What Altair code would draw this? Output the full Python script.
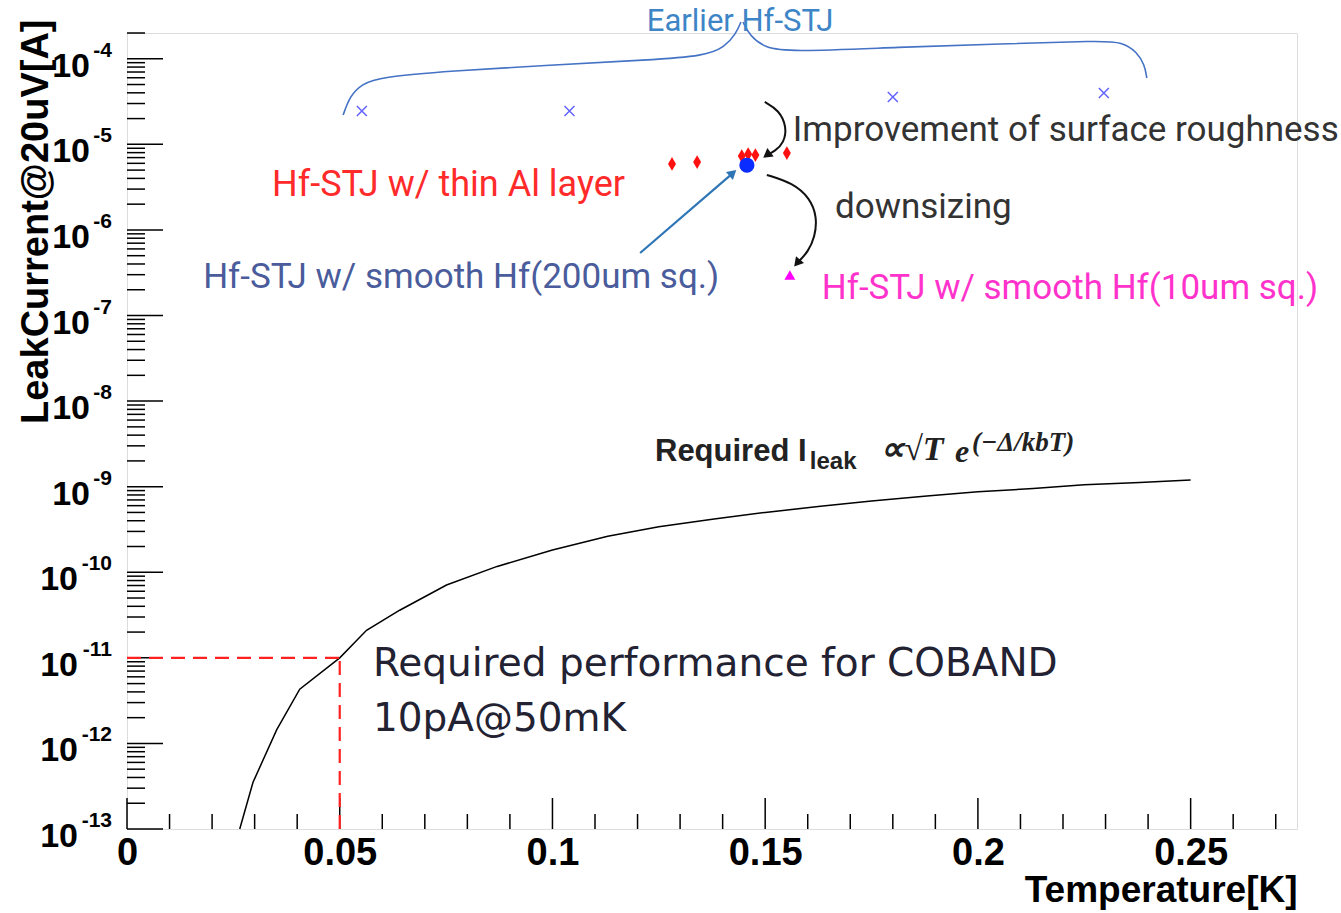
import altair as alt
import pandas as pd

# ---------------- data ----------------
curve_T = [0.0265, 0.0296, 0.0352, 0.0406, 0.0500, 0.0563, 0.0641, 0.0751, 0.0870, 0.1000, 0.1130,
           0.1250, 0.1380, 0.1500, 0.1630, 0.1750, 0.1880, 0.2000, 0.2130, 0.2250, 0.2380, 0.2500]
curve_I = [1.0e-13, 3.5e-13, 1.45e-12, 4.3e-12, 1.0e-11, 2.1e-11, 3.6e-11, 7.1e-11, 1.17e-10, 1.82e-10, 2.63e-10,
           3.4e-10, 4.2e-10, 5.0e-10, 5.9e-10, 6.8e-10, 7.8e-10, 8.7e-10, 9.5e-10, 1.05e-9, 1.12e-9, 1.2e-9]

earlier_T = [0.0552, 0.1040, 0.1800, 0.2296]
earlier_I = [2.45e-5, 2.45e-5, 3.57e-5, 3.98e-5]

al_T = [0.1281, 0.1340, 0.1445, 0.1460, 0.1477, 0.1551]
al_I = [5.9e-6, 6.2e-6, 7.3e-6, 7.7e-6, 7.5e-6, 7.9e-6]

smooth200_T = [0.1457]
smooth200_I = [5.7e-6]
smooth10_T = [0.1558]
smooth10_I = [2.98e-7]

req_T = 0.05
req_I = 1e-11

x_major = [0.0, 0.05, 0.10, 0.15, 0.20, 0.25]
x_minor = [0.01, 0.02, 0.03, 0.04, 0.06, 0.07, 0.08, 0.09, 0.11, 0.12, 0.13, 0.14,
           0.16, 0.17, 0.18, 0.19, 0.21, 0.22, 0.23, 0.24, 0.26, 0.27]
y_major = [1e-13, 1e-12, 1e-11, 1e-10, 1e-9, 1e-8, 1e-7, 1e-6, 1e-5, 1e-4]
y_exp = ["-13", "-12", "-11", "-10", "-9", "-8", "-7", "-6", "-5", "-4"]
y_mantissa = [2, 3, 4, 5, 6, 7, 8, 9]

# brace over "Earlier Hf-STJ" (two halves)
braceL_T = [0.0508, 0.0524, 0.0552, 0.0595, 0.0759, 0.0994, 0.1229, 0.1358, 0.1405, 0.1431, 0.1443]
braceL_I = [2.2e-5, 3.67e-5, 5.07e-5, 6.12e-5, 7.19e-5, 8.45e-5, 9.68e-5, 1.08e-4, 1.37e-4, 1.95e-4, 2.69e-4]
braceR_T = [0.1448, 0.1464, 0.1499, 0.1558, 0.1817, 0.2052, 0.2287, 0.2339, 0.2374, 0.2392, 0.2397]
braceR_I = [2.69e-4, 1.85e-4, 1.34e-4, 1.20e-4, 1.37e-4, 1.49e-4, 1.62e-4, 1.57e-4, 1.20e-4, 8.45e-5, 5.96e-5]

# arrows
arrow1_T = [0.1499, 0.1532, 0.1551, 0.1544, 0.1523, 0.1504]
arrow1_I = [3.13e-5, 2.52e-5, 1.60e-5, 1.04e-5, 8.36e-6, 7.51e-6]
arrow2_T = [0.1504, 0.1565, 0.1605, 0.1622, 0.1617, 0.1600, 0.1582, 0.1575]
arrow2_I = [4.39e-6, 3.53e-6, 2.36e-6, 1.42e-6, 8.26e-7, 5.52e-7, 4.45e-7, 4.1e-7]
arrow3_T = [0.1206, 0.1424]
arrow3_I = [5.38e-7, 4.62e-6]

# annotation texts and anchors
ann_text = ["Earlier Hf-STJ", "Improvement of surface roughness", "Hf-STJ w/ thin Al layer",
            "Hf-STJ w/ smooth Hf(200um sq.)", "downsizing", "Hf-STJ w/ smooth Hf(10um sq.)",
            "Required performance for COBAND", "10pA@50mK"]
ann_T = [0.1441, 0.1565, 0.0341, 0.0179, 0.1664, 0.1633, 0.0578, 0.0578]
ann_I = [2.70e-4, 1.47e-5, 3.35e-6, 2.82e-7, 1.85e-6, 2.10e-7, 8.4e-12, 1.95e-12]

formula_text = ["Required I", "leak", "∝√T", "e", "(−Δ/kbT)"]
formula_T = [0.1241, 0.1605, 0.1770, 0.1946, 0.1986]
formula_I = [2.54e-9, 1.94e-9, 2.69e-9, 2.54e-9, 3.24e-9]

# ---------------- chart ----------------
W, H = 1170, 796
xs = alt.Scale(domain=[0, 0.275], nice=False, zero=False)
ys = alt.Scale(type="log", domain=[1e-13, 2e-4], nice=False)

xaxis = alt.Axis(values=x_major, labelExpr="format(datum.value, '.2~f')", labelFont="Liberation Sans",
                 labelFontWeight="bold", labelFontSize=38, labelColor="#000", labelPadding=5,
                 labelFlush=False, labelOverlap=False, ticks=False, domain=False, grid=False,
                 title="Temperature[K]", titleFont="Liberation Sans", titleFontSize=37,
                 titleFontWeight="bold", titleColor="#000", titleAlign="right",
                 titleBaseline="alphabetic", titleX=W, titleY=72)
yaxis = alt.Axis(labels=False, ticks=False, domain=False, grid=False,
                 title="LeakCurrent@20uV[A]", titleFont="Liberation Sans", titleFontSize=38,
                 titleFontWeight="bold", titleColor="#000", titleAngle=270, titleAlign="right",
                 titleBaseline="alphabetic", titleX=-80, titleY=-14)


def X():
    return alt.X("T:Q", scale=xs, axis=xaxis)


def Y():
    return alt.Y("I:Q", scale=ys, axis=yaxis)


curve_df = pd.DataFrame({"T": curve_T, "I": curve_I, "o": range(len(curve_T))})
curve = alt.Chart(curve_df).mark_line(color="#000", strokeWidth=1.5).encode(
    x=X(), y=Y(), order="o:Q")

# inside ticks
ymaj_df = pd.DataFrame({"I": y_major})
ymin_vals = [m * d for d in y_major for m in y_mantissa if m * d <= 2e-4]
ymin_df = pd.DataFrame({"I": ymin_vals})
ymaj = alt.Chart(ymaj_df).mark_rule(color="#000", strokeWidth=1.5).encode(
    y=Y(), x=alt.value(0), x2=alt.value(36))
ymin = alt.Chart(ymin_df).mark_rule(color="#000", strokeWidth=1.5).encode(
    y=Y(), x=alt.value(0), x2=alt.value(18))
xmaj = alt.Chart(pd.DataFrame({"T": x_major})).mark_rule(color="#000", strokeWidth=1.5).encode(
    x=X(), y=alt.value(H), y2=alt.value(H - 31))
xmin = alt.Chart(pd.DataFrame({"T": x_minor})).mark_rule(color="#000", strokeWidth=1.5).encode(
    x=X(), y=alt.value(H), y2=alt.value(H - 15))

# y tick labels: "10" plus a raised exponent
ylab_df = pd.DataFrame({"I": y_major, "e": y_exp, "b": ["10"] * len(y_major)})
ylab_df["two"] = ylab_df["e"].str.len() > 2
base_style = dict(align="right", baseline="alphabetic", dy=18, font="Liberation Sans",
                  fontWeight="bold", fontSize=34, color="#000")
ten_long = alt.Chart(ylab_df[ylab_df["two"]]).mark_text(**base_style).encode(
    y=Y(), x=alt.value(-49), text="b:N")
ten_short = alt.Chart(ylab_df[~ylab_df["two"]]).mark_text(**base_style).encode(
    y=Y(), x=alt.value(-37), text="b:N")
expo = alt.Chart(ylab_df).mark_text(
    align="right", baseline="alphabetic", dy=-2, font="Liberation Sans", fontWeight="bold",
    fontSize=21, color="#000").encode(y=Y(), x=alt.value(-15), text="e:N")

# red dashed requirement lines
req_df = pd.DataFrame({"T": [0.0, req_T], "T2": [req_T, req_T],
                       "I": [req_I, 1e-13], "I2": [req_I, req_I]})
req = alt.Chart(req_df).mark_rule(color="#ff2020", strokeWidth=2.2, strokeDash=[14, 8]).encode(
    x=X(), x2="T2:Q", y=Y(), y2="I2:Q")

# markers
earlier = alt.Chart(pd.DataFrame({"T": earlier_T, "I": earlier_I})).mark_point(
    shape="M-1,-1L1,1M-1,1L1,-1", filled=False, color="#2020ff", strokeWidth=1.5, size=100).encode(x=X(), y=Y())
al = alt.Chart(pd.DataFrame({"T": al_T, "I": al_I})).mark_point(
    shape="M0,-1.2L0.7,0L0,1.2L-0.7,0Z", filled=True, color="#ff1010", opacity=1, size=130).encode(x=X(), y=Y())
s200 = alt.Chart(pd.DataFrame({"T": smooth200_T, "I": smooth200_I})).mark_point(
    shape="circle", filled=True, color="#0a2cff", opacity=1, size=230).encode(x=X(), y=Y())
s10 = alt.Chart(pd.DataFrame({"T": smooth10_T, "I": smooth10_I})).mark_point(
    shape="triangle-up", filled=True, color="#ff00ff", opacity=1, size=120).encode(x=X(), y=Y())

# brace
brace_df = pd.DataFrame({
    "T": braceL_T + braceR_T, "I": braceL_I + braceR_I,
    "g": ["L"] * len(braceL_T) + ["R"] * len(braceR_T),
    "o": list(range(len(braceL_T))) + list(range(len(braceR_T)))})
brace = alt.Chart(brace_df).mark_line(color="#4472c4", strokeWidth=1.6, interpolate="basis").encode(
    x=X(), y=Y(), detail="g:N", order="o:Q")


def arrow_line(Ts, Is, color, width, interp):
    df = pd.DataFrame({"T": Ts, "I": Is, "o": range(len(Ts))})
    return alt.Chart(df).mark_line(color=color, strokeWidth=width, interpolate=interp).encode(
        x=X(), y=Y(), order="o:Q")


def arrow_head(T, I, color, angle, size):
    df = pd.DataFrame({"T": [T], "I": [I]})
    return alt.Chart(df).mark_point(shape="triangle-up", filled=True, color=color, opacity=1,
                                    size=size, angle=angle).encode(x=X(), y=Y())


a1 = arrow_line(arrow1_T, arrow1_I, "#111", 2, "basis")
a1h = arrow_head(arrow1_T[-1], arrow1_I[-1], "#111", 233, 110)
a2 = arrow_line(arrow2_T, arrow2_I, "#111", 2, "basis")
a2h = arrow_head(arrow2_T[-1], arrow2_I[-1], "#111", 220, 110)
a3 = arrow_line(arrow3_T, arrow3_I, "#2e75b6", 2.2, "linear")
a3h = arrow_head(arrow3_T[-1], arrow3_I[-1], "#2e75b6", 49, 110)


def txt(i, texts, Ts, Is, **kw):
    df = pd.DataFrame({"T": [Ts[i]], "I": [Is[i]], "s": [texts[i]]})
    return alt.Chart(df).mark_text(**kw).encode(x=X(), y=Y(), text="s:N")


ann_styles = [
    dict(align="center", baseline="middle", font="Roboto", fontSize=31, color="#3d85c6"),
    dict(align="left", baseline="middle", font="Roboto", fontSize=35, color="#333333"),
    dict(align="left", baseline="middle", font="Roboto", fontSize=36, color="#ff2a2a"),
    dict(align="left", baseline="middle", font="Roboto", fontSize=35, color="#4a5c9c"),
    dict(align="left", baseline="middle", font="Roboto", fontSize=35, color="#333333"),
    dict(align="left", baseline="middle", font="Roboto", fontSize=35, color="#ff33cc"),
    dict(align="left", baseline="middle", font="DejaVu Sans", fontSize=39, color="#222233"),
    dict(align="left", baseline="middle", font="DejaVu Sans", fontSize=39, color="#222233"),
]
ann_layers = [txt(i, ann_text, ann_T, ann_I, **ann_styles[i]) for i in range(len(ann_text))]

formula_styles = [
    dict(align="left", baseline="middle", font="Liberation Sans", fontWeight="bold", fontSize=31, color="#222"),
    dict(align="left", baseline="middle", font="Liberation Sans", fontWeight="bold", fontSize=24, color="#222"),
    dict(align="left", baseline="middle", font="Liberation Serif", fontWeight="bold", fontStyle="italic", fontSize=34, color="#222"),
    dict(align="left", baseline="middle", font="Liberation Serif", fontWeight="bold", fontStyle="italic", fontSize=32, color="#222"),
    dict(align="left", baseline="middle", font="Liberation Serif", fontWeight="bold", fontStyle="italic", fontSize=27, color="#222"),
]
formula_layers = [txt(i, formula_text, formula_T, formula_I, **formula_styles[i]) for i in range(len(formula_text))]

chart = alt.layer(
    curve, ymaj, ymin, xmaj, xmin, ten_long, ten_short, expo, req, brace, a1, a1h, a2, a2h, a3, a3h,
    earlier, al, s200, s10, *ann_layers, *formula_layers
).properties(
    width=W, height=H,
    autosize=alt.AutoSizeParams(type="none"),
    padding={"left": 127, "top": 33, "right": 44, "bottom": 84},
).configure_view(stroke="#888888", strokeWidth=2).configure(background="white")

chart.save("out.html", embed_options={"renderer": "svg", "actions": False})
